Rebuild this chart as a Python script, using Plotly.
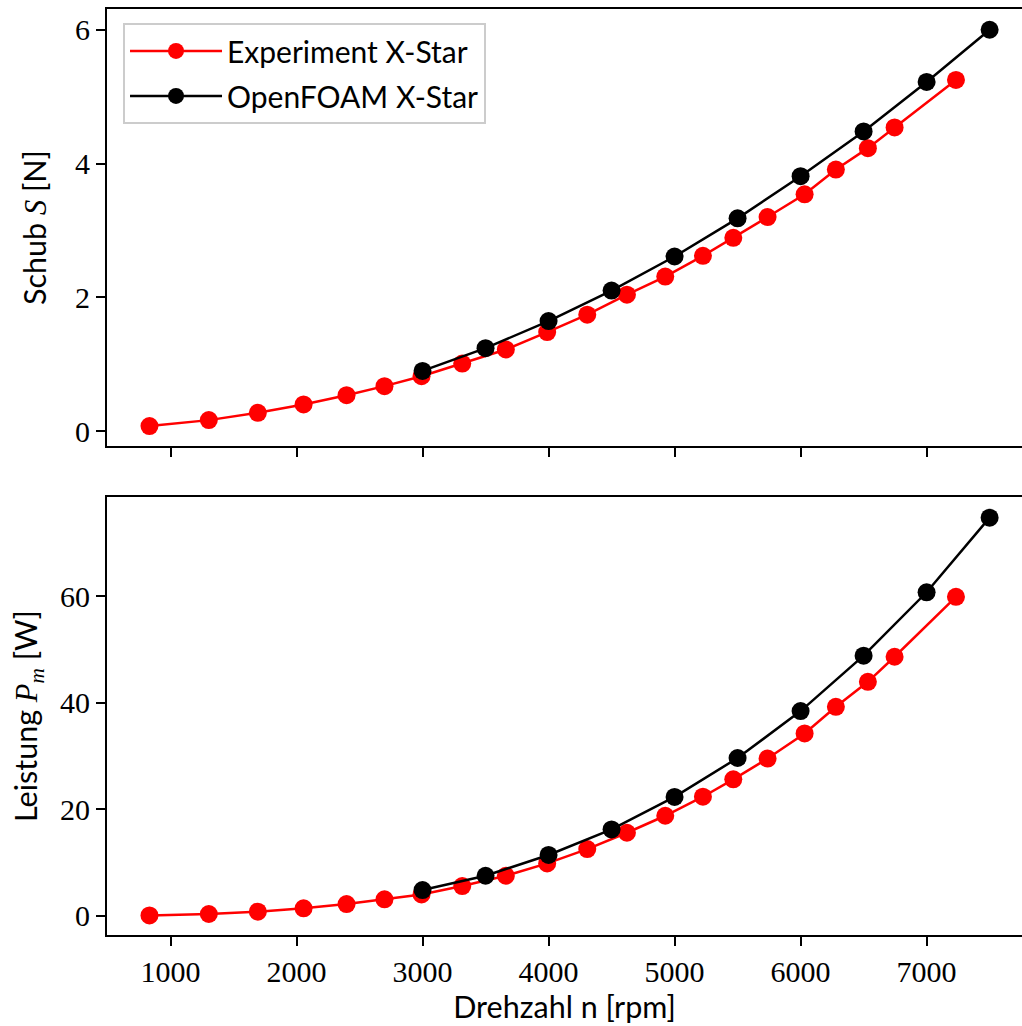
import plotly.graph_objects as go

# Experiment X-Star: rotational speed [rpm], thrust [N], power [W]
exp_n = [833, 1304, 1693, 2056, 2397, 2698, 2992, 3315, 3661, 3989, 4307,
         4622, 4926, 5225, 5466, 5738, 6032, 6280, 6534, 6746, 7233]
exp_thrust = [0.075, 0.164, 0.273, 0.398, 0.537, 0.672, 0.82, 1.01, 1.22, 1.48, 1.74,
              2.04, 2.31, 2.62, 2.89, 3.20, 3.54, 3.91, 4.23, 4.54, 5.25]
exp_power = [0.05, 0.32, 0.76, 1.38, 2.19, 3.07, 4.0, 5.57, 7.5, 9.82, 12.5,
             15.57, 18.76, 22.33, 25.6, 29.5, 34.2, 39.2, 43.9, 48.6, 59.85]

# OpenFOAM X-Star simulation results
cfd_n = [3000, 3500, 4000, 4500, 5000, 5500, 6000, 6500, 7000, 7500]
cfd_thrust = [0.90, 1.24, 1.645, 2.10, 2.61, 3.18, 3.81, 4.48, 5.22, 6.00]
cfd_power = [4.82, 7.5, 11.4, 16.2, 22.3, 29.6, 38.4, 48.8, 60.7, 74.7]

x_ticks = [1000, 2000, 3000, 4000, 5000, 6000, 7000]
thrust_ticks = [0, 2, 4, 6]
power_ticks = [0, 20, 40, 60]

SERIF = "Liberation Serif"
SANS = "Lato"
RED = "#ff0000"
BLACK = "#000000"

fig = go.Figure()

def add_series(x, y, color, name, xa, ya, show):
    fig.add_trace(go.Scatter(
        x=x, y=y, mode="lines+markers", name=name,
        line=dict(color=color, width=2.5),
        marker=dict(color=color, size=18, line=dict(width=0)),
        xaxis=xa, yaxis=ya, showlegend=show, legendgroup=name,
    ))

add_series(exp_n, exp_thrust, RED, "Experiment X-Star", "x", "y", True)
add_series(cfd_n, cfd_thrust, BLACK, "OpenFOAM X-Star", "x", "y", True)
add_series(exp_n, exp_power, RED, "Experiment X-Star", "x2", "y2", False)
add_series(cfd_n, cfd_power, BLACK, "OpenFOAM X-Star", "x2", "y2", False)

axis_common = dict(
    showline=True, linecolor="black", linewidth=2,
    ticks="outside", ticklen=9, tickwidth=2, tickcolor="black",
    showgrid=False, zeroline=False,
    tickfont=dict(family=SERIF, size=30, color="black"),
)

title_font = dict(family=SANS, size=30.5, color="black")
x_range = [496, 7757]

fig.update_layout(
    width=1022, height=1026,
    margin=dict(l=107, r=0, t=9, b=91),
    paper_bgcolor="white", plot_bgcolor="white",
    xaxis=dict(axis_common, domain=[0, 1], anchor="y", range=x_range,
               tickvals=x_ticks, showticklabels=False, mirror=True, matches="x2"),
    yaxis=dict(axis_common, domain=[0.528, 1], anchor="x", range=[-0.224, 6.31],
               tickvals=thrust_ticks,
               title=dict(text="Schub <span style=\"font-family:Liberation Serif\"><i>S</i></span> [N]",
                          font=title_font, standoff=19)),
    xaxis2=dict(axis_common, domain=[0, 1], anchor="y2", range=x_range,
                tickvals=x_ticks, mirror=True,
                title=dict(text="Drehzahl n [rpm]", font=title_font, standoff=6)),
    yaxis2=dict(axis_common, domain=[0, 0.473], anchor="x2", range=[-3.62, 78.58],
                tickvals=power_ticks,
                title=dict(text="Leistung <span style=\"font-family:Liberation Serif\"><i>P</i><sub><i>m</i></sub></span> [W]",
                           font=title_font, standoff=13)),
    legend=dict(x=0.0175, y=0.985, xanchor="left", yanchor="top",
                bgcolor="rgba(255,255,255,0.8)", bordercolor="#cccccc", borderwidth=2,
                font=dict(family=SANS, size=30, color="black"),
                itemwidth=92, tracegroupgap=3),
)

fig.write_html("out.html")
